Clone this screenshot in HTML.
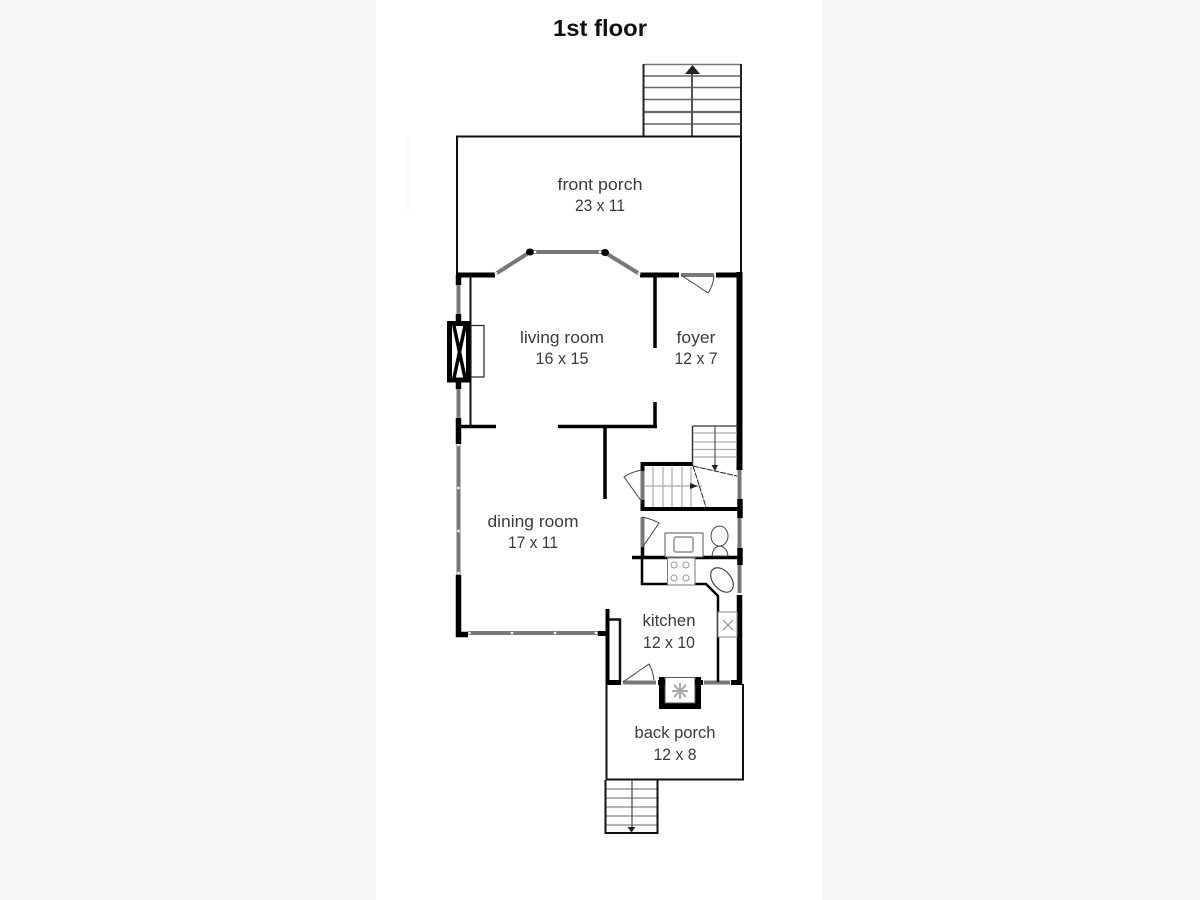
<!DOCTYPE html>
<html><head><meta charset="utf-8"><style>
html,body{margin:0;padding:0;background:#f6f5f8}
svg{display:block}
text{font-family:"Liberation Sans",sans-serif;fill:#3a3a3a;font-size:17px;text-anchor:middle}
</style></head><body>
<svg width="1200" height="900" viewBox="0 0 1200 900" xmlns="http://www.w3.org/2000/svg">
<rect width="1200" height="900" fill="#f6f5f8"/>
<rect x="376" width="446" height="900" fill="#fff"/>
<path d="M408 136V210" stroke="#f1f1f1" stroke-width="1"/>
<text x="600" y="36" style="font-size:23px;font-weight:bold;fill:#111" textLength="94" lengthAdjust="spacingAndGlyphs">1st floor</text>

<!-- front stairs -->
<g fill="none" stroke="#666" stroke-width="1.500">
<path d="M644 76H741M644 87.500H741M644 99.500H741M644 124H741"/>
<path d="M644 112H741" stroke-width="2.200"/>
<path d="M644 64.500H741" stroke="#777"/>
<path d="M692 70V136" stroke="#555" stroke-width="2"/>
</g>
<path d="M643.500 64V136M741 64V136" stroke="#222" stroke-width="2" fill="none"/>
<path d="M692.500 65L685 74H700Z" fill="#222"/>

<!-- front porch -->
<path d="M457 275V136.500H741V275" fill="none" stroke="#111" stroke-width="2"/>

<!-- top wall and bay -->
<g fill="none" stroke="#000">
<path d="M456 275H495M640 275H679M716 275H742" stroke-width="5"/>
<path d="M739.500 272V470" stroke-width="6"/>
</g>
<g fill="none" stroke="#777" stroke-width="4">
<path d="M497 273L530 252H604L638 273M681 275H714"/>
<path d="M458.500 284V316M458.500 388V418M458.500 444V575"/>
<path d="M468 633H598"/>
<path d="M642.500 470V500M642.500 517V547M739.500 470V500M739.500 518V548M739.500 565V593"/>
<path d="M623 682.500H656M704 682.500H730"/>
</g>
<ellipse cx="530" cy="252" rx="4" ry="3.500" fill="#000"/><ellipse cx="605" cy="252.500" rx="4" ry="3.500" fill="#000"/>
<g fill="#fff" stroke="#999" stroke-width="0.500">
<circle cx="496" cy="273.500" r="1.500"/><circle cx="535" cy="252" r="1.500"/><circle cx="600" cy="252" r="1.500"/><circle cx="639" cy="273.500" r="1.500"/>
<circle cx="458.500" cy="445" r="1.500"/><circle cx="458.500" cy="488" r="1.500"/><circle cx="458.500" cy="531" r="1.500"/><circle cx="458.500" cy="573" r="1.500"/>
<circle cx="469.500" cy="633" r="1.500"/><circle cx="512" cy="633" r="1.500"/><circle cx="555" cy="633" r="1.500"/><circle cx="596" cy="633" r="1.500"/>
</g>
<path d="M681 275L708 293Q713 286 714 276" fill="none" stroke="#444"/>

<!-- left wall -->
<path d="M458.500 275V285M458.500 418V444M458.500 575V634.500H468" fill="none" stroke="#000" stroke-width="5.500"/>
<path d="M470.500 275V426" stroke="#111" stroke-width="2" fill="none"/>
<!-- fireplace -->
<path d="M458.500 314V322M458.500 382V389" stroke="#000" stroke-width="5.500"/>
<rect x="449.500" y="323.500" width="19" height="56.500" fill="#fff" stroke="#000" stroke-width="5"/>
<path d="M454 326L465 378M465 326L454 378" stroke="#000" stroke-width="3.500"/>
<rect x="471" y="325.500" width="13" height="51.500" fill="#fff" stroke="#222" stroke-width="1.200"/>

<!-- interior walls -->
<g fill="none" stroke="#000" stroke-width="3.500">
<path d="M459 426.500H496M558 426.500H657M655 275V348M655 402V428M605 426V499"/>
<path d="M640.500 464H693" stroke-width="4"/>
<path d="M692.500 426H738" stroke="#333" stroke-width="1.200"/>
<path d="M692.500 426V465" stroke="#333" stroke-width="1.500"/>
<path d="M641 509H738M642.500 462V471M642.500 500V511" stroke-width="4"/>
<path d="M642.500 547V557M632 557.500H738"/>
<path d="M642 557V584H667M695 584H706L718 596V682" stroke-width="2.500"/>
</g>
<!-- upper stairs -->
<g fill="none" stroke="#aaa" stroke-width="1.200">
<path d="M693 433H737M693 442H737M693 449.500H737M693 457H737"/>
<path d="M715 426V466" stroke="#555"/>
<path d="M644 486H702M653 467V507M663 467V507M672 467V507M682 467V507M691 467V507"/>
</g>
<path d="M693 466L737 476M693 466L706 507" stroke="#222" stroke-width="1" fill="none" stroke-dasharray="6 1"/>
<path d="M711.500 465H718L715 471Z" fill="#222"/>
<path d="M690 483L698 486L690 489Z" fill="#222"/>
<!-- doors -->
<path d="M642 470Q631 472 624 477L642 502" fill="none" stroke="#444"/>
<path d="M642 517Q652 519 659 523L642 548" fill="none" stroke="#444"/>
<path d="M623 682L649 664Q653 671 654 680" fill="none" stroke="#444"/>

<!-- right lower wall -->
<path d="M740 499V518M740 548V565M739.500 595V685" fill="none" stroke="#000" stroke-width="5.500"/>

<!-- sink -->
<rect x="665" y="533" width="38" height="24" fill="#fff" stroke="#555"/>
<rect x="674" y="537" width="19" height="15" rx="2" fill="#fff" stroke="#aaa" stroke-width="2"/>
<!-- toilet -->
<ellipse cx="719.500" cy="536" rx="8.500" ry="10" fill="#fff" stroke="#444"/>
<path d="M712 556Q713 547 719.500 546Q727 547 728 556Z" fill="#fff" stroke="#444"/>
<!-- stove -->
<rect x="667.500" y="558" width="27.500" height="27" fill="#fff" stroke="#777"/>
<circle cx="674" cy="565" r="3" fill="none" stroke="#999"/><circle cx="686" cy="565" r="3" fill="none" stroke="#999"/>
<circle cx="674" cy="578" r="3" fill="none" stroke="#999"/><circle cx="686" cy="578" r="3" fill="none" stroke="#999"/>
<!-- oval -->
<ellipse cx="722" cy="580" rx="9" ry="14" transform="rotate(-40 722 580)" fill="#fff" stroke="#444" stroke-width="1.200"/>
<!-- counter appliance -->
<rect x="718" y="612" width="19" height="25" fill="#fff" stroke="#888"/>
<path d="M723 620L733 630M733 620L723 630" stroke="#888"/>

<!-- jog near kitchen -->
<path d="M607.500 609V684" stroke="#000" stroke-width="4"/>
<path d="M598 633.500H608" stroke="#000" stroke-width="5"/>
<path d="M608 619.500H620V682" fill="none" stroke="#111" stroke-width="2.500"/>
<path d="M606 682.500H621M731 682.500H742" stroke="#000" stroke-width="5"/>

<!-- back chimney -->
<path d="M659 677H665V703H695V677H701V709H659Z" fill="#000"/>
<rect x="665" y="677.500" width="30" height="25.500" fill="#fff" stroke="#555" stroke-width="1"/>
<path d="M674 685L686 697M686 685L674 697M680 683V699M672 691H688" stroke="#aaa" stroke-width="2"/>
<path d="M658 682.500H665M695 682.500H703" stroke="#000" stroke-width="5"/>

<!-- back porch -->
<path d="M606.500 684V779.500H743V684" fill="none" stroke="#111" stroke-width="2"/>
<!-- back stairs -->
<g fill="none" stroke="#888" stroke-width="1.200">
<path d="M606 789H657M606 798H657M606 807H657M606 816H657M606 825H657"/>
<path d="M632 780V828" stroke="#444"/>
</g>
<path d="M605.500 780V833H657.500V780" fill="none" stroke="#111" stroke-width="2"/>
<path d="M627.500 827H635.500L631.500 832.500Z" fill="#222"/>

<text x="600" y="190" textLength="85" lengthAdjust="spacingAndGlyphs">front porch</text>
<text x="600" y="211" textLength="50" lengthAdjust="spacingAndGlyphs">23 x 11</text>
<text x="562" y="343" textLength="84" lengthAdjust="spacingAndGlyphs">living room</text>
<text x="562" y="364" textLength="53" lengthAdjust="spacingAndGlyphs">16 x 15</text>
<text x="696" y="343" textLength="39" lengthAdjust="spacingAndGlyphs">foyer</text>
<text x="696" y="364" textLength="43" lengthAdjust="spacingAndGlyphs">12 x 7</text>
<text x="533" y="527" textLength="91" lengthAdjust="spacingAndGlyphs">dining room</text>
<text x="533" y="548" textLength="50" lengthAdjust="spacingAndGlyphs">17 x 11</text>
<text x="669" y="626" textLength="53" lengthAdjust="spacingAndGlyphs">kitchen</text>
<text x="669" y="648" textLength="52" lengthAdjust="spacingAndGlyphs">12 x 10</text>
<text x="675" y="738" textLength="81" lengthAdjust="spacingAndGlyphs">back porch</text>
<text x="675" y="760" textLength="43" lengthAdjust="spacingAndGlyphs">12 x 8</text>
</svg>
</body></html>
